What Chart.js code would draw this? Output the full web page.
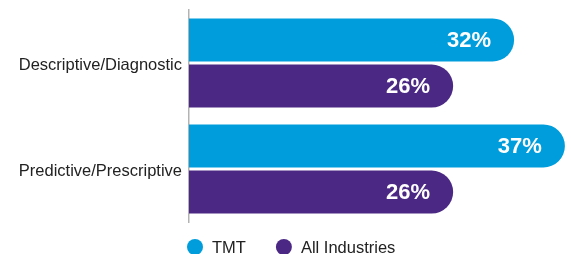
<!DOCTYPE html>
<html>
<head>
<meta charset="utf-8">
<script src="https://cdn.jsdelivr.net/npm/chart.js@4"></script>
<style>
  html, body { margin: 0; padding: 0; background: #fff; }
  #wrap { width: 571px; height: 254px; position: relative; }
</style>
</head>
<body>
<div id="wrap"><canvas id="analyticsChart"></canvas></div>
<script>
const categories = ['Descriptive/Diagnostic', 'Predictive/Prescriptive'];
const seriesNames = ['TMT', 'All Industries'];
const tmtValues = [32, 37];
const allIndustriesValues = [26, 26];
const seriesColors = ['#009ddc', '#4b2884'];

const FONT = '"Liberation Sans", Arial, sans-serif';

// white % labels inside the bar ends
const barLabels = {
    id: 'barLabels',
    afterDatasetsDraw(chart) {
        const ctx = chart.ctx;
        ctx.save();
        ctx.font = 'bold 22px ' + FONT;
        ctx.fillStyle = '#ffffff';
        ctx.textAlign = 'right';
        ctx.textBaseline = 'middle';
        chart.data.datasets.forEach((ds, i) => {
            chart.getDatasetMeta(i).data.forEach((bar, j) => {
                ctx.fillText(ds.data[j] + '%', bar.x - 23, bar.y + 1);
            });
        });
        ctx.restore();
    }
};

// dot legend under the chart
const dotLegend = {
    id: 'dotLegend',
    afterDraw(chart) {
        const ctx = chart.ctx;
        ctx.save();
        ctx.font = '16.5px ' + FONT;
        ctx.textBaseline = 'middle';
        let x = chart.chartArea.left - 2;
        const y = 247;
        chart.data.datasets.forEach(ds => {
            ctx.fillStyle = ds.backgroundColor;
            ctx.beginPath();
            ctx.arc(x + 8, y, 8, 0, Math.PI * 2);
            ctx.fill();
            ctx.fillStyle = '#222';
            ctx.fillText(ds.label, x + 25, y + 1);
            x += 25 + ctx.measureText(ds.label).width + 30;
        });
        ctx.restore();
    }
};

const ctx = document.getElementById('analyticsChart').getContext('2d');
new Chart(ctx, {
    type: 'bar',
    data: {
        labels: categories,
        datasets: [{
            label: seriesNames[0],
            data: tmtValues,
            backgroundColor: seriesColors[0]
        }, {
            label: seriesNames[1],
            data: allIndustriesValues,
            backgroundColor: seriesColors[1]
        }].map(ds => Object.assign(ds, {
            borderRadius: 30,
            borderSkipped: 'start',
            categoryPercentage: 0.87,
            barPercentage: 0.935
        }))
    },
    options: {
        indexAxis: 'y',
        responsive: true,
        maintainAspectRatio: false,
        animation: false,
        layout: {
            padding: { top: 10, right: 0, bottom: 32, left: 0 }
        },
        scales: {
            x: {
                display: false,
                min: 0,
                max: 37.6
            },
            y: {
                grid: { display: false, drawTicks: false },
                border: { display: true, color: '#b3b3b3', width: 1.5 },
                ticks: {
                    color: '#222',
                    padding: 7,
                    labelOffset: 2,
                    font: { family: FONT, size: 16.5 }
                },
                afterFit(scale) {
                    scale.width = 189;
                    scale.paddingTop = 0;
                    scale.paddingBottom = 0;
                }
            }
        },
        plugins: {
            legend: { display: false },
            tooltip: { enabled: false }
        }
    },
    plugins: [barLabels, dotLegend]
});
</script>
</body>
</html>
